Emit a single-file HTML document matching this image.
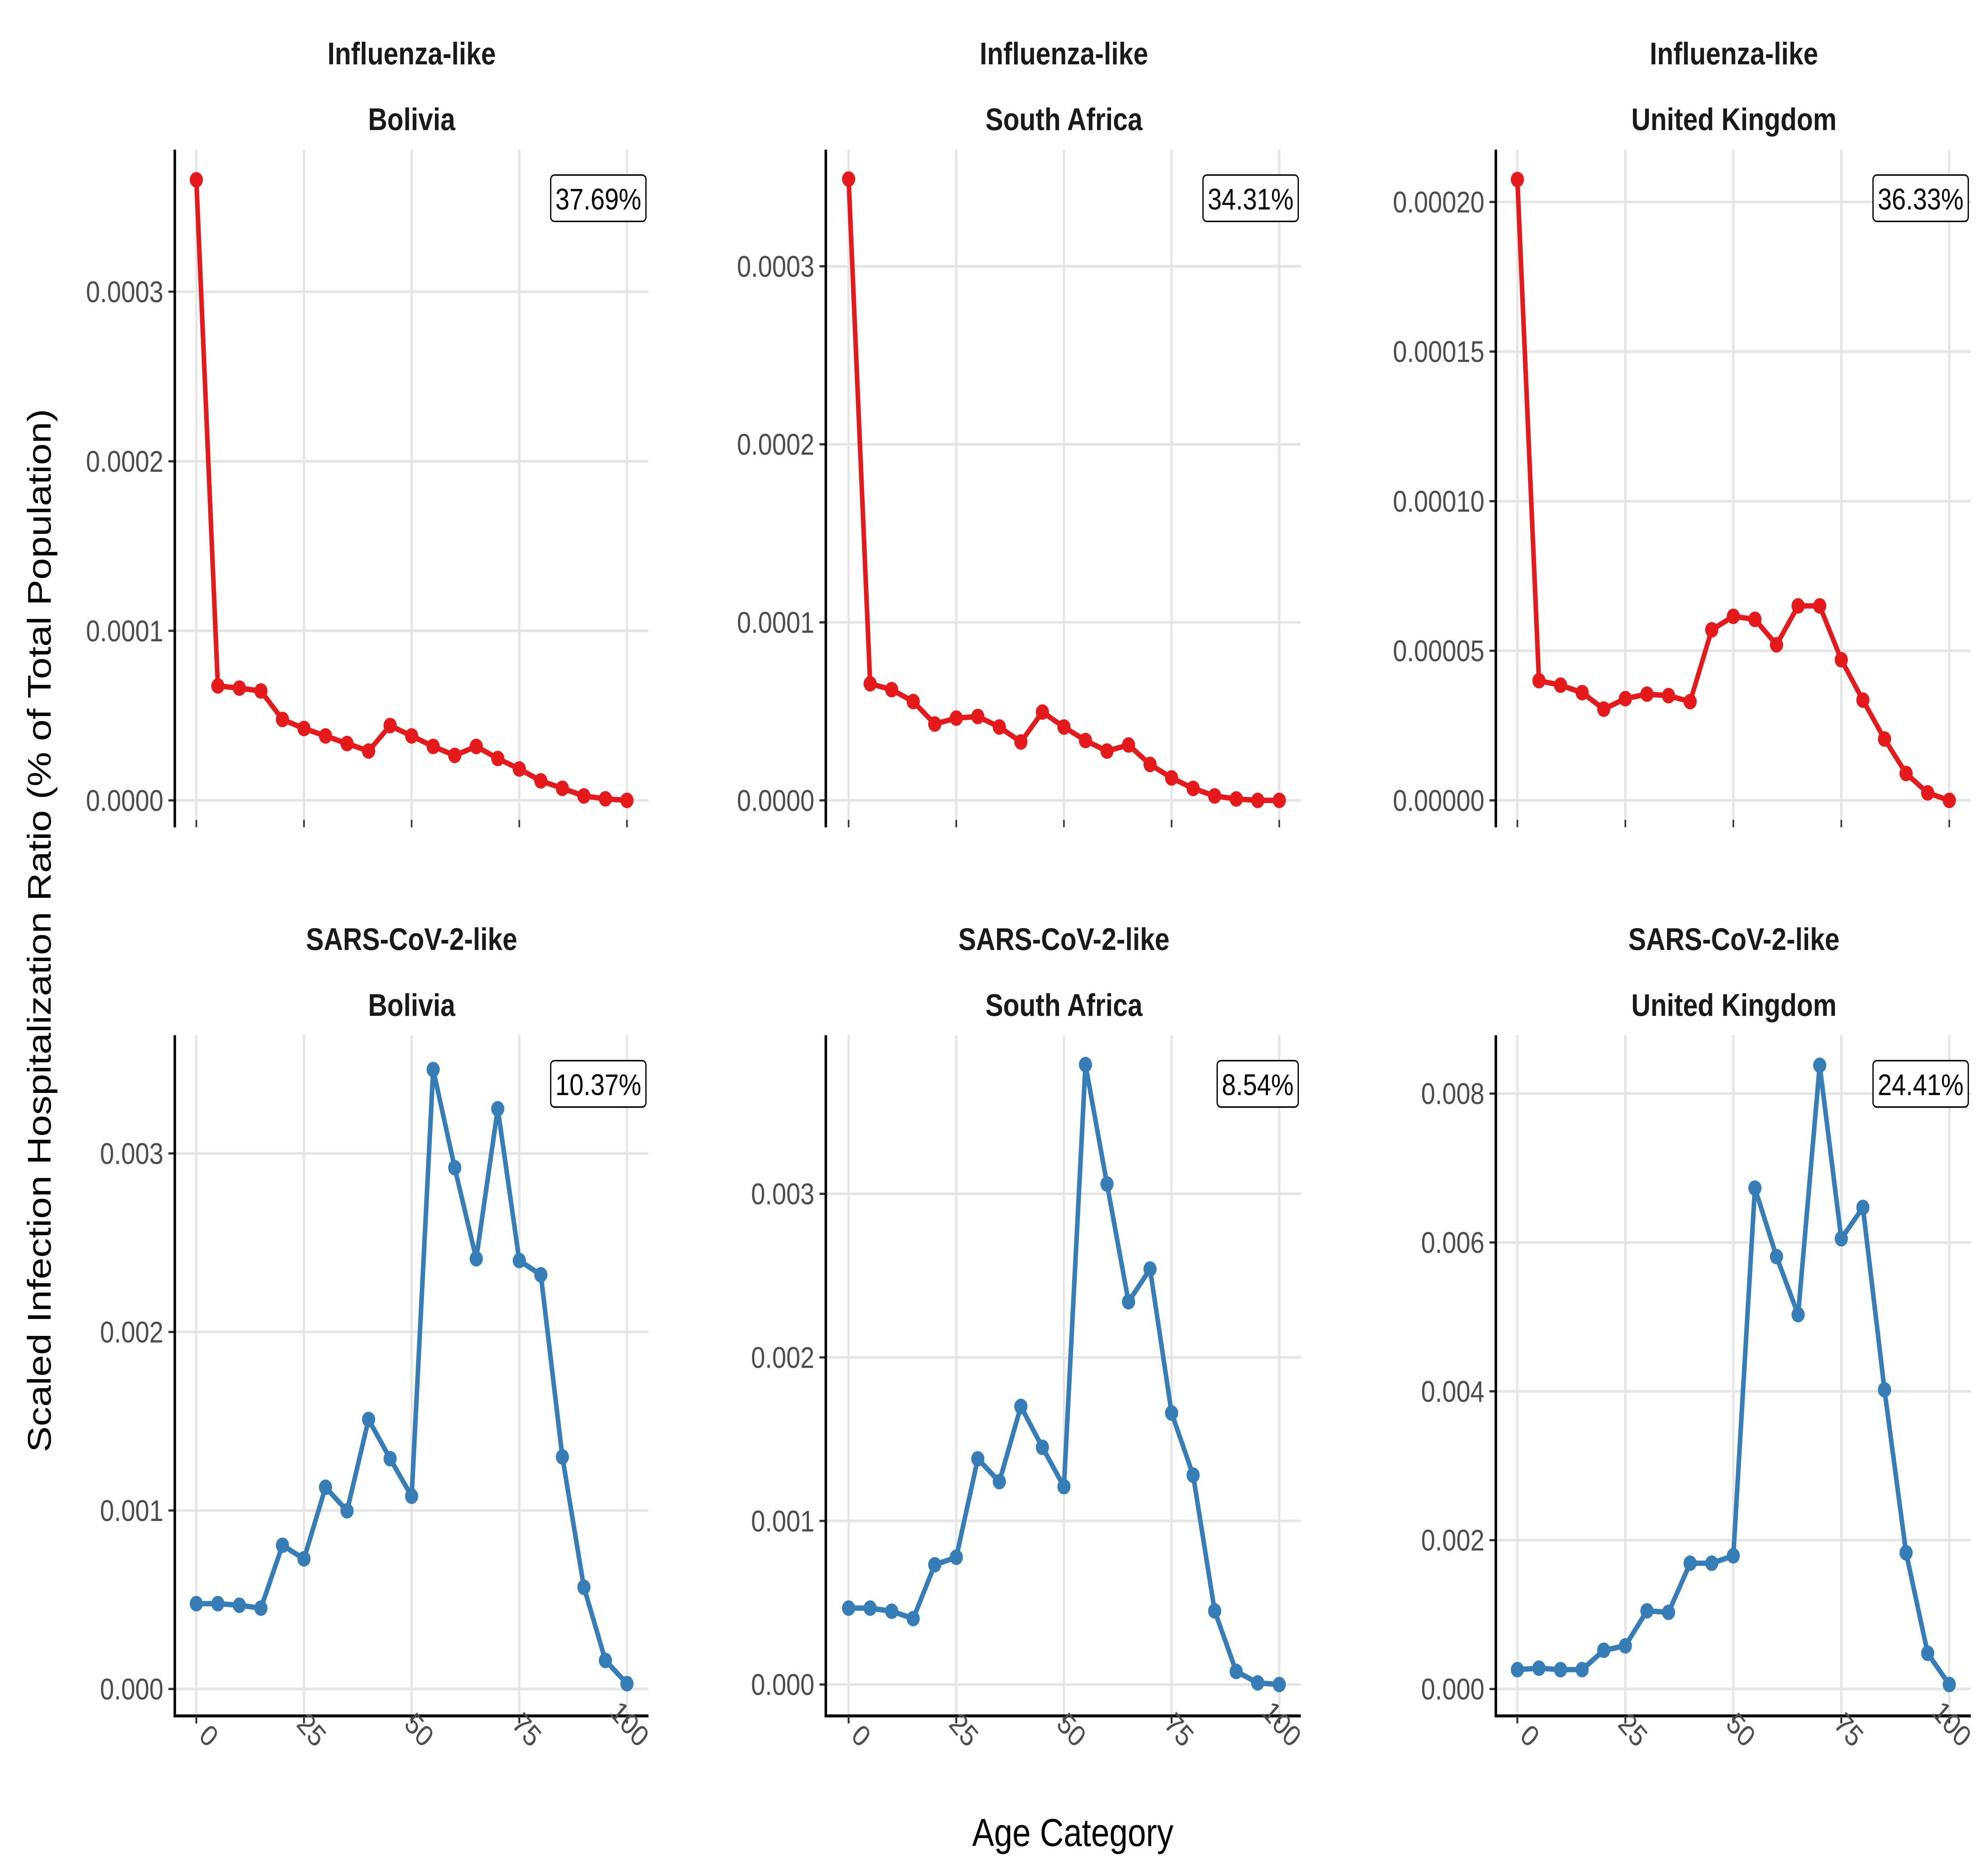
<!DOCTYPE html>
<html><head><meta charset="utf-8">
<style>
html,body{margin:0;padding:0;background:#fff;width:100%;height:100%;overflow:hidden;}
svg{display:block;width:100vw;height:100vh;}
text{font-family:"Liberation Sans",Arial,sans-serif;}
</style></head>
<body>
<svg id="chart" viewBox="0 0 1568 1254" preserveAspectRatio="none" xmlns="http://www.w3.org/2000/svg">
<rect width="1568" height="1254" fill="#fff"/>
<text x="847" y="1234" font-size="26" text-anchor="middle" fill="#000">Age Category</text>
<text transform="translate(40,622) rotate(-90)" font-size="26" text-anchor="middle" fill="#000">Scaled Infection Hospitalization Ratio (% of Total Population)</text>
<g id="panels"></g>
</svg>
<script>
const ages = [0,5,10,15,20,25,30,35,40,45,50,55,60,65,70,75,80,85,90,95,100];
const xTicks = [0,25,50,75,100];
const fluBolivia = [0.000366,0.0000675,0.0000662,0.0000645,0.0000477,0.0000424,0.0000380,0.0000335,0.0000291,0.0000441,0.0000380,0.0000318,0.0000265,0.0000318,0.0000247,0.0000185,0.0000115,0.0000071,0.0000026,0.0000009,0];
const fluSouthAfrica = [0.000349,0.0000655,0.0000622,0.0000555,0.0000429,0.0000462,0.0000471,0.0000412,0.0000328,0.0000496,0.0000412,0.0000336,0.0000277,0.0000311,0.0000202,0.0000126,0.0000067,0.0000025,0.0000008,0,0];
const fluUK = [0.0002075,0.00004,0.0000385,0.000036,0.0000305,0.000034,0.0000355,0.000035,0.000033,0.000057,0.0000615,0.0000605,0.000052,0.000065,0.000065,0.000047,0.0000335,0.0000205,0.000009,0.0000025,0];
const covBolivia = [0.000478,0.000478,0.000469,0.000453,0.000805,0.000729,0.00113,0.000998,0.00151,0.00129,0.00108,0.00347,0.00292,0.00241,0.00325,0.0024,0.00232,0.0013,0.00057,0.00016,0.00003];
const covSouthAfrica = [0.000467,0.000467,0.000448,0.000403,0.000732,0.000778,0.00138,0.00124,0.0017,0.00145,0.00121,0.00379,0.00306,0.00234,0.00254,0.00166,0.00128,0.00045,0.00008,0.00001,0];
const covUK = [0.00026,0.00028,0.00026,0.00026,0.00052,0.00058,0.00105,0.00103,0.00169,0.00169,0.00179,0.00673,0.00581,0.00503,0.00838,0.00605,0.00647,0.00402,0.00183,0.00048,0.00006];
const yTicksFluBo = [0,0.0001,0.0002,0.0003];
const yLabelsFluBo = ["0.0000","0.0001","0.0002","0.0003"];
const yTicksFluSA = [0,0.0001,0.0002,0.0003];
const yLabelsFluSA = ["0.0000","0.0001","0.0002","0.0003"];
const yTicksFluUK = [0,0.00005,0.0001,0.00015,0.0002];
const yLabelsFluUK = ["0.00000","0.00005","0.00010","0.00015","0.00020"];
const yTicksCovBo = [0,0.001,0.002,0.003];
const yLabelsCovBo = ["0.000","0.001","0.002","0.003"];
const yTicksCovSA = [0,0.001,0.002,0.003];
const yLabelsCovSA = ["0.000","0.001","0.002","0.003"];
const yTicksCovUK = [0,0.002,0.004,0.006,0.008];
const yLabelsCovUK = ["0.000","0.002","0.004","0.006","0.008"];
const percents = ["37.69%","34.31%","36.33%","10.37%","8.54%","24.41%"];

const NS="http://www.w3.org/2000/svg";
const root=document.getElementById('panels');
function mk(tag,attrs,parent){const e=document.createElementNS(NS,tag);for(const k in attrs)e.setAttribute(k,attrs[k]);(parent||root).appendChild(e);return e;}

const cols=[{l:138,r:512,x0:155,x1:495,c:325},{l:652,r:1027,x0:670,x1:1010,c:840},{l:1181,r:1556,x0:1198,x1:1539,c:1369}];
const rows=[
 {t:100,b:553,strip1:35,strip2:79,virus:"Influenza-like",color:"#E41A1C",xaxis:false},
 {t:692,b:1147,strip1:627,strip2:671,virus:"SARS-CoV-2-like",color:"#377EB8",xaxis:true}
];
const countries=["Bolivia","South Africa","United Kingdom"];
const panels=[
 {r:0,c:0,data:fluBolivia,ticks:yTicksFluBo,labels:yLabelsFluBo,y0:535,yref:0.0003,ypx:195},
 {r:0,c:1,data:fluSouthAfrica,ticks:yTicksFluSA,labels:yLabelsFluSA,y0:535,yref:0.0003,ypx:178},
 {r:0,c:2,data:fluUK,ticks:yTicksFluUK,labels:yLabelsFluUK,y0:535,yref:0.0002,ypx:135},
 {r:1,c:0,data:covBolivia,ticks:yTicksCovBo,labels:yLabelsCovBo,y0:1129,yref:0.003,ypx:771},
 {r:1,c:1,data:covSouthAfrica,ticks:yTicksCovSA,labels:yLabelsCovSA,y0:1126,yref:0.003,ypx:798},
 {r:1,c:2,data:covUK,ticks:yTicksCovUK,labels:yLabelsCovUK,y0:1129,yref:0.008,ypx:731}
];
panels.forEach((p,i)=>{
  const C=cols[p.c],R=rows[p.r];
  const g=mk('g',{});
  
  
  const xs=v=>C.x0+(v-0)/(100-0)*(C.x1-C.x0);
  const ys=v=>p.y0-(v/p.yref)*(p.y0-p.ypx);
  xTicks.forEach(t=>{const l=mk('line',{x1:xs(t),x2:xs(t),y1:R.t,y2:R.b,stroke:'#e5e5e5','stroke-width':1.8},g);
    
    });
  p.ticks.forEach((t,k)=>{
    const y=ys(t);
    const l=mk('line',{x1:C.l,x2:C.r,y1:y,y2:y,stroke:'#e5e5e5','stroke-width':1.8},g);
    
    
    mk('line',{x1:C.l-5,x2:C.l,y1:y,y2:y,stroke:'#333','stroke-width':1.5},g);
    const tx=mk('text',{x:C.l-9,y:y+7,'font-size':20,'text-anchor':'end',fill:'#4d4d4d'},g);
    tx.textContent=p.labels[k];
    
    
  });
  const ya=mk('line',{x1:C.l,x2:C.l,y1:R.t,y2:R.b,stroke:'#000','stroke-width':2},g);
  
  
  if(R.xaxis){
    const xa=mk('line',{x1:C.l-1,x2:C.r,y1:R.b,y2:R.b,stroke:'#000','stroke-width':2},g);
    
    
    xTicks.forEach(t=>{
      mk('line',{x1:xs(t),x2:xs(t),y1:R.b,y2:R.b+5,stroke:'#333','stroke-width':1.5},g);
      const tx=mk('text',{transform:`translate(${xs(t)+9},${R.b+22}) rotate(45)`,'font-size':20,'text-anchor':'end',fill:'#4d4d4d'},g);
      tx.textContent=t;
      
      
    });
  } else {
    xTicks.forEach(t=>{mk('line',{x1:xs(t),x2:xs(t),y1:R.b-5,y2:R.b,stroke:'#333','stroke-width':1.2},g);});
  }
  const s1=mk('text',{x:C.c,y:R.strip1+8,'font-size':21,'font-weight':'bold','text-anchor':'middle',fill:'#1a1a1a'},g);
  s1.textContent=R.virus;
  
  
  const s2=mk('text',{x:C.c,y:R.strip2+8,'font-size':21,'font-weight':'bold','text-anchor':'middle',fill:'#1a1a1a'},g);
  s2.textContent=countries[p.c];
  
  
  const pts=ages.map((a,k)=>xs(a)+','+ys(p.data[k])).join(' ');
  const pl=mk('polyline',{points:pts,fill:'none',stroke:R.color,'stroke-width':3.6,'stroke-linejoin':'round'},g);
  
  
  ages.forEach((a,k)=>{
    const c=mk('circle',{cx:xs(a),cy:ys(p.data[k]),r:5.2,fill:R.color},g);
    
    
  });
  const bw=percents[i].length*11.2+8, bx=C.r-2-bw, by=R.t+17;
  const bg=mk('g',{},g);
  
  
  mk('rect',{x:bx,y:by,width:bw,height:31,rx:3,fill:'#fff',stroke:'#000','stroke-width':1},bg);
  const pt=mk('text',{x:bx+bw/2,y:by+23,'font-size':20,'text-anchor':'middle',fill:'#000'},bg);
  pt.textContent=percents[i];
});
</script>
</body></html>
